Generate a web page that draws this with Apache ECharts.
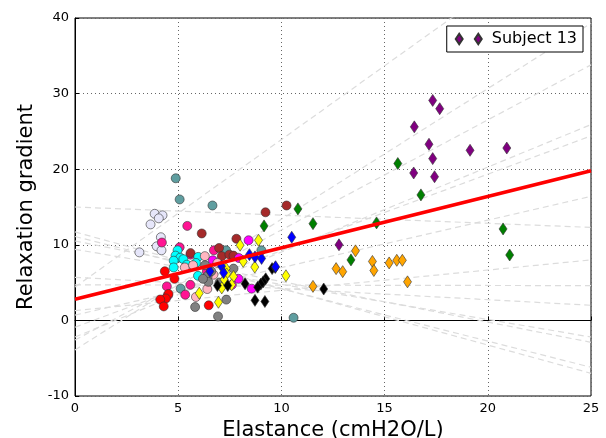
<!DOCTYPE html>
<html>
<head>
<meta charset="utf-8">
<script src="https://cdn.jsdelivr.net/npm/echarts@6/dist/echarts.min.js"></script>
<style>
  html, body { margin: 0; padding: 0; background: #fff; }
  #chart { width: 606px; height: 438px; }
</style>
</head>
<body>
<div id="chart"></div>
<script>
  // points per subject, [elastance, relaxation gradient]
  var teal = [[4.88, 18.8], [5.07, 16.0], [6.66, 15.2], [7.32, 9.27], [9.03, 9.27], [5.12, 4.2], [10.59, 0.35], [6.5, 6.2]];
  var lavender = [[3.86, 14.1], [4.24, 13.9], [4.06, 13.5], [3.66, 12.7], [4.16, 11.0], [3.96, 9.8], [4.19, 9.27], [3.12, 9.0]];
  var deeppink = [[5.44, 12.5], [4.21, 10.3], [5.07, 9.67], [5.6, 8.7], [6.73, 9.27], [4.45, 4.5], [5.34, 3.4], [5.59, 4.7], [6.39, 6.5], [4.5, 3.3]];
  var brown = [[10.25, 15.2], [9.23, 14.3], [6.14, 11.5], [7.82, 10.8], [6.98, 9.58], [7.11, 8.5], [7.48, 8.7], [7.68, 8.57], [5.6, 8.9]];
  var magenta = [[8.41, 10.6], [6.68, 7.95], [7.94, 8.25], [7.92, 5.5], [8.56, 4.2], [7.6, 4.7]];
  var cyan = [[4.97, 9.27], [4.87, 8.57], [5.1, 8.3], [5.25, 8.1], [4.78, 7.9], [5.42, 7.37], [5.97, 8.4], [5.86, 7.6], [4.78, 7.0], [5.96, 5.9]];
  var pink = [[6.29, 8.5], [5.32, 7.0], [5.72, 7.3], [6.71, 6.05], [6.41, 4.15], [5.86, 3.1], [6.9, 7.6]];
  var red = [[4.35, 6.5], [4.82, 5.5], [4.53, 3.5], [4.4, 2.9], [4.13, 2.75], [4.3, 1.85], [6.48, 2.0]];
  var gray = [[7.33, 2.75], [5.82, 1.77], [6.93, 0.53], [7.68, 6.85], [6.43, 5.9], [6.46, 5.1], [6.3, 7.3], [6.6, 6.5], [7.0, 5.0], [6.2, 5.5]];
  var yellow = [[8.89, 10.6], [8.0, 9.95], [8.15, 7.8], [8.71, 7.05], [7.32, 6.85], [7.35, 6.15], [7.68, 5.8], [7.23, 5.4], [7.59, 4.7], [7.11, 4.3], [6.02, 3.6], [6.95, 2.4], [10.22, 5.9]];
  var black = [[12.05, 4.15], [8.72, 2.65], [9.2, 2.5], [9.55, 6.85], [9.7, 7.0], [9.24, 5.5], [9.12, 5.1], [9.0, 4.8], [8.85, 4.4], [8.24, 4.85], [6.9, 4.6], [7.4, 4.6]];
  var blue = [[10.5, 11.0], [8.45, 8.7], [8.72, 8.4], [9.04, 8.2], [9.72, 7.1], [6.54, 6.5], [7.1, 7.15], [7.2, 6.3]];
  var orange = [[13.59, 9.2], [14.41, 7.8], [15.22, 7.6], [15.59, 7.95], [15.86, 7.95], [12.65, 6.85], [12.97, 6.45], [14.48, 6.6], [16.11, 5.1], [11.53, 4.5]];
  var green = [[15.64, 20.75], [16.76, 16.6], [10.8, 14.75], [14.61, 12.9], [11.53, 12.8], [9.16, 12.5], [20.74, 12.1], [21.06, 8.65], [13.37, 8.0]];
  var subject13 = [[17.33, 29.1], [17.67, 28.0], [16.44, 25.6], [17.15, 23.3], [19.14, 22.5], [20.92, 22.8], [17.33, 21.4], [16.41, 19.5], [17.42, 19.0], [12.79, 10.0]];

  // per-subject fits: value at x=0 and at x=25
  var fitStart = [4.4, -3.9, -2.6, -2.2, -0.9, 0.7, 1.3, 15.0, 11.7, 11.1, 10.5, 9.4, 5.7, 4.7];
  var fitEnd = [53.2, 39.3, 33.8, 25.9, 24.4, 16.4, 8.0, 12.3, -7.0, -6.2, -2.9, -2.2, 2.0, 4.6];

  // pooled fit
  var poolStart = 2.8;
  var poolEnd = 19.8;

  var circleSets = [
    [teal, '#5f9ea0'], [lavender, '#e6e6fa'], [deeppink, '#ff1493'], [brown, '#a52a2a'],
    [magenta, '#ff00ff'], [cyan, '#00ffff'], [pink, '#ffb6c1'], [red, '#ff0000'], [gray, '#808080']
  ];
  var diamondSets = [
    [yellow, '#ffff00'], [black, '#000000'], [blue, '#0000ff'], [orange, '#ffa500'], [green, '#008000']
  ];

  var chart = echarts.init(document.getElementById('chart'));
  var series = [];

  // dashed fits go underneath
  for (var i = 0; i < fitStart.length; i++) {
    series.push({
      type: 'line',
      data: [[0, fitStart[i]], [25, fitEnd[i]]],
      symbol: 'none',
      silent: true,
      lineStyle: { color: '#dcdcdc', width: 1.2, type: [6, 4] },
      z: 1
    });
  }

  circleSets.forEach(function (s) {
    series.push({
      type: 'scatter',
      data: s[0],
      symbol: 'circle',
      symbolSize: 9,
      itemStyle: { color: s[1], borderColor: '#333', borderWidth: 0.6, opacity: 1 },
      z: 2
    });
  });

  diamondSets.forEach(function (s) {
    series.push({
      type: 'scatter',
      data: s[0],
      symbol: 'diamond',
      symbolSize: [8, 12],
      itemStyle: { color: s[1], borderColor: '#333', borderWidth: 0.6, opacity: 1 },
      z: 3
    });
  });

  series.push({
    name: 'Subject 13',
    type: 'scatter',
    data: subject13,
    symbol: 'diamond',
    symbolSize: [8, 12],
    itemStyle: { color: '#800080', borderColor: '#333', borderWidth: 0.6, opacity: 1 },
    z: 4
  });

  series.push({
    type: 'line',
    data: [[0, poolStart], [25, poolEnd]],
    symbol: 'none',
    silent: true,
    lineStyle: { color: '#ff0000', width: 3.5 },
    z: 5
  });

  chart.setOption({
    animation: false,
    textStyle: { fontFamily: 'DejaVu Sans' },
    grid: {
      left: 75, right: 15, top: 18, bottom: 42,
      containLabel: false, outerBoundsMode: 'none',
      show: true, borderColor: '#000', borderWidth: 1
    },
    legend: {
      data: ['Subject 13'],
      right: 23, top: 26,
      orient: 'vertical',
      icon: 'path://M4,0 L8,6 L4,12 L0,6 Z M26,0 L30,6 L26,12 L22,6 Z',
      itemWidth: 26, itemHeight: 12,
      padding: [5, 6, 5, 8],
      borderColor: '#000', borderWidth: 1, borderRadius: 0,
      backgroundColor: '#fff',
      textStyle: { fontSize: 16, color: '#000', padding: [0, 0, 0, 5] }
    },
    xAxis: {
      type: 'value', min: 0, max: 25, interval: 5,
      name: 'Elastance (cmH2O/L)', nameLocation: 'middle', nameGap: 22,
      nameTextStyle: { fontSize: 21, color: '#000' },
      axisLine: { lineStyle: { color: '#000' } },
      axisTick: { inside: true, length: 4, lineStyle: { color: '#000' } },
      axisLabel: { fontSize: 13, color: '#000', margin: 6 },
      splitLine: { show: true, lineStyle: { color: '#666', type: [1, 3] } }
    },
    yAxis: {
      type: 'value', min: -10, max: 40, interval: 10,
      name: 'Relaxation gradient', nameLocation: 'middle', nameGap: 27,
      nameTextStyle: { fontSize: 21, color: '#000' },
      axisLine: { show: true, lineStyle: { color: '#000' } },
      axisTick: { show: true, inside: true, length: 4, lineStyle: { color: '#000' } },
      axisLabel: { fontSize: 13, color: '#000', margin: 6 },
      splitLine: { show: true, lineStyle: { color: '#666', type: [1, 3] } }
    },
    series: series
  });
</script>
</body>
</html>
